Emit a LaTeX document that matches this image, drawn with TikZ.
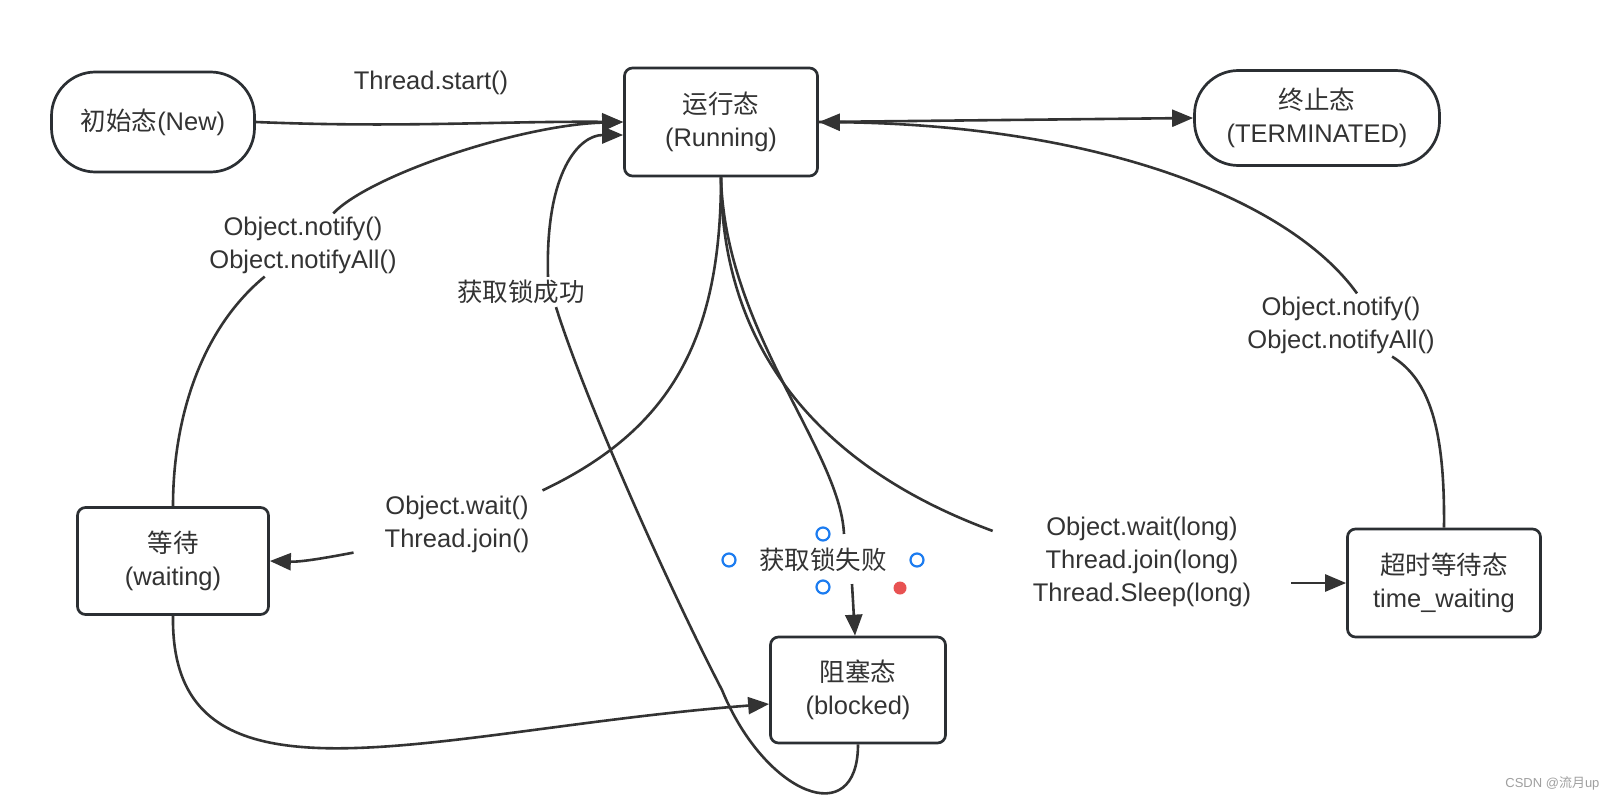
\documentclass[tikz,border=0pt]{standalone}
\usepackage{fontspec}
\setmainfont{Liberation Sans}
\newfontfamily\cjk{Noto Sans CJK SC}
\usetikzlibrary{arrows.meta}
\definecolor{ink}{HTML}{333333}
\definecolor{edge}{HTML}{2B2F33}
\definecolor{handleblue}{HTML}{1C7CF0}
\definecolor{handlered}{HTML}{E85252}
\tikzset{
  state/.style={draw=edge, line width=2.7pt, rounded corners=8pt, minimum width=191pt, minimum height=107pt, align=center, text=ink},
  stadium/.style={state, rounded corners=44pt},
  lbl/.style={align=center, text=ink, inner sep=3pt},
  link/.style={draw=ink, line width=2.6pt},
  flow/.style={link, -{Triangle[length=21pt,width=17pt]}},
  handle/.style={circle, draw=handleblue, line width=2.2pt, fill=white, inner sep=0pt, minimum size=13pt}
}
\begin{document}
\begin{tikzpicture}[x=1pt, y=-1pt, font=\fontsize{25.5}{33}\selectfont]
\fill[white] (0,0) rectangle (1618,800);
\useasboundingbox (0,0) rectangle (1618,800);
% states
\node[stadium, minimum width=203pt, minimum height=100pt] (new) at (153,122) {{\cjk 初始态}(New)};
\node[state, minimum width=193pt, minimum height=108pt] (run) at (721,122) {{\cjk 运行态}\\(Running)};
\node[stadium, minimum width=245pt, minimum height=95pt] (term) at (1317,118) {{\cjk 终止态}\\(TERMINATED)};
\node[state] (wait) at (173,561) {{\cjk 等待}\\(waiting)};
\node[state, minimum width=175pt, minimum height=106pt] (blk) at (858,690) {{\cjk 阻塞态}\\(blocked)};
\node[state, minimum width=193pt, minimum height=108pt] (tw) at (1444,583) {{\cjk 超时等待态}\\time\_waiting};
% labels
\node[lbl] (lstart) at (431,83) {Thread.start()};
\node[lbl] (lnotl) at (303,245) {Object.notify()\\Object.notifyAll()};
\node[lbl] (lok) at (521,292) {\cjk 获取锁成功};
\node[lbl] (lwait) at (457,524) {Object.wait()\\Thread.join()};
\node[lbl] (lfail) at (823,560) {\cjk 获取锁失败};
\node[lbl] (llong) at (1142,562) {Object.wait(long)\\Thread.join(long)\\Thread.Sleep(long)};
\node[lbl] (lnotr) at (1341,325) {Object.notify()\\Object.notifyAll()};
% transitions
\draw[flow] (new.east) .. controls (400,128) and (500,121) .. (run.west);
\draw[flow] (run.east) -- (term.west);
\draw[link] (wait.north) .. controls (173,420) and (200,330) .. (lnotl);
\draw[flow] (lnotl) .. controls (370,175) and (520,125) .. (run.west);
\draw[link] (run.south) .. controls (721,340) and (670,430) .. ([xshift=10pt,yshift=2pt]lwait.north east);
\draw[flow] ([xshift=-28pt,yshift=3pt]lwait.south west) .. controls (320,559) and (300,562) .. (wait.east);
\draw[link] (run.south) .. controls (725,330) and (840,450) .. ([xshift=21pt,yshift=11pt]lfail.north);
\draw[flow] ([xshift=29pt,yshift=-9pt]lfail.south) -- ([xshift=-3pt]blk.north);
\draw[link] (run.south) .. controls (721,330) and (800,460) .. ([xshift=-37pt,yshift=-17pt]llong.north west);
\draw[flow] ([xshift=-55pt]tw.west) -- (tw.west);
\draw[link] (tw.north) .. controls (1445,430) and (1430,380) .. (lnotr);
\draw[flow] ([xshift=16pt]lnotr.north) .. controls (1290,200) and (1100,125) .. (run.east);
\draw[link] (blk.south) .. controls (858,832) and (765,795) .. (722,690)
  .. controls (670,590) and (585,400) .. ([xshift=35pt]lok.south);
\draw[flow] ([xshift=27pt]lok.north) .. controls (545,170) and (580,135) .. ([yshift=-13pt]run.west);
\draw[flow] (wait.south) .. controls (170,825) and (430,730) .. ([yshift=-14pt]blk.west);
% selection handles
\foreach \dx/\dy [count=\i] in {0/-26, -94/0, 94/0, 0/27}
  \node[handle] (h\i) at ([shift={(\dx,\dy)}]lfail.center) {};
\fill[handlered] ([shift={(77,28)}]lfail.center) circle (6.5);
\node[anchor=east, text=gray!75, font=\fontsize{13}{15}\selectfont] (mark) at (1603,783) {CSDN @{\cjk 流月}up};
\end{tikzpicture}
\end{document}
